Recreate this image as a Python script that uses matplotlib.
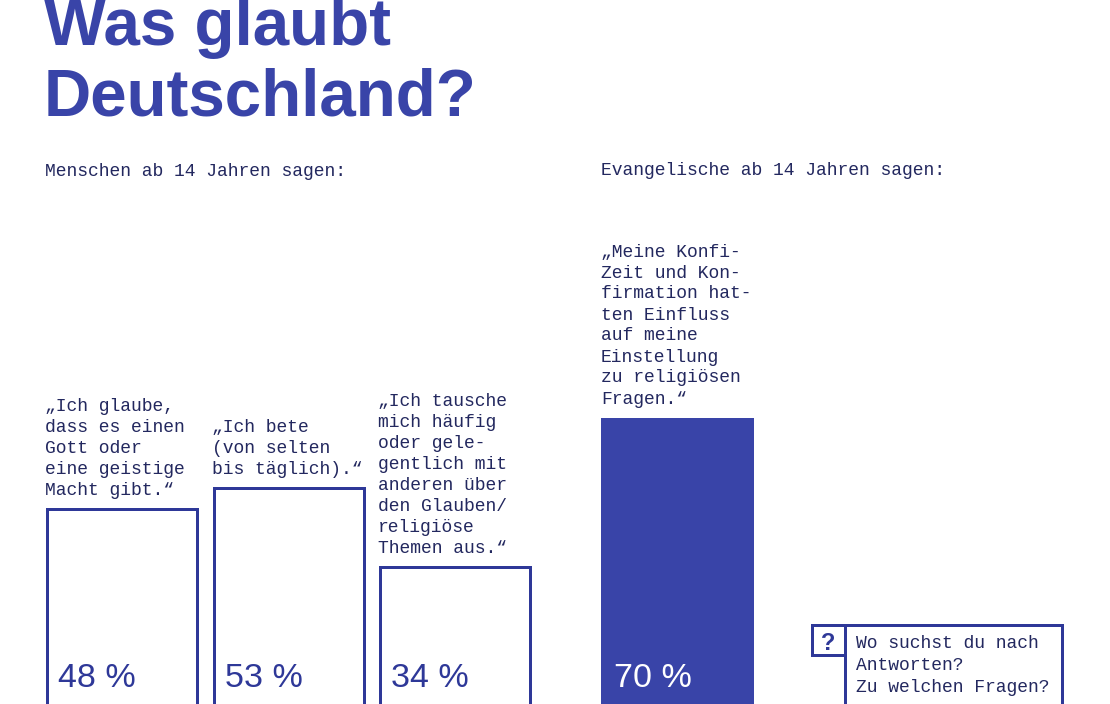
import matplotlib
matplotlib.use('Agg')
import matplotlib.pyplot as plt

# data
left_header = "Menschen ab 14 Jahren sagen:"
right_header = "Evangelische ab 14 Jahren sagen:"
left_labels = [
    ["„Ich glaube,", "dass es einen", "Gott oder", "eine geistige", "Macht gibt.“"],
    ["„Ich bete", "(von selten", "bis täglich).“"],
    ["„Ich tausche", "mich häufig", "oder gele-", "gentlich mit", "anderen über",
     "den Glauben/", "religiöse", "Themen aus.“"],
]
left_values = [48, 53, 34]
right_labels = [
    ["„Meine Konfi-", "Zeit und Kon-", "firmation hat-", "ten Einfluss",
     "auf meine", "Einstellung", "zu religiösen", "Fragen.“"],
]
right_values = [70]
question_lines = ["Wo suchst du nach", "Antworten?", "Zu welchen Fragen?"]

# layout (pixels)
W, H = 1110, 704
PT = 0.72  # points per pixel at dpi 100
left_x = [45, 212, 378]
right_x = [601]
bar_w = 153
zero_px = 708      # pixel row of the 0 % line (just below the picture)
px_per_pct = 4.15

BLUE = '#3944a8'
EDGE = '#2e3898'
TEXT = '#23285f'
MONO = 'Liberation Mono'

fig = plt.figure(figsize=(W / 100, H / 100), dpi=100)

ax = fig.add_axes([0, 0, 1, 1])
ax.set_xlim(0, W)
ax.set_ylim((zero_px - H) / px_per_pct, zero_px / px_per_pct)
ax.axis('off')

lw = 3 * PT
# outlined bars (inset by half the line width so the outer edge sits on x)
ax.bar([x + 1.5 for x in left_x], left_values, width=bar_w - 3, align='edge',
       facecolor='white', edgecolor=EDGE, linewidth=lw)
ax.bar([x for x in right_x], right_values, width=bar_w, align='edge',
       facecolor=BLUE, edgecolor=BLUE, linewidth=0)


def put_labels(xs, vals, labels, pct_color):
    for x, v, lines in zip(xs, vals, labels):
        n = len(lines)
        for k, line in enumerate(lines):
            dy = 14 + 21 * (n - 1 - k)
            ax.annotate(line, xy=(x, v), xytext=(0, dy * PT), textcoords='offset points',
                        ha='left', va='baseline', fontsize=13, family=MONO, color=TEXT,
                        annotation_clip=False)
        ax.annotate('%d %%' % v, xy=(x, 0), xytext=(13 * PT, 21 * PT),
                    textcoords='offset points', ha='left', va='baseline',
                    fontsize=24.5, family='Liberation Sans', color=pct_color,
                    annotation_clip=False)


put_labels(left_x, left_values, left_labels, EDGE)
put_labels(right_x, right_values, right_labels, 'white')

# overlay in pixel coordinates for title, headers and question box
ov = fig.add_axes([0, 0, 1, 1])
ov.set_xlim(0, W)
ov.set_ylim(H, 0)
ov.axis('off')

title_font = dict(family='Liberation Sans', fontweight='bold', fontsize=47.2,
                  color=BLUE, va='baseline', ha='left')
ov.text(44, 45, "Was glaubt", **title_font)
ov.text(44, 115, "Deutschland?", **title_font)

ov.text(45, 176, left_header, fontsize=13, family=MONO, color=TEXT, va='baseline')
ov.text(601, 175, right_header, fontsize=13, family=MONO, color=TEXT, va='baseline')

# question box
box = dict(color=EDGE, linewidth=lw, solid_capstyle='projecting')
ov.plot([812, 1062], [625, 625], **box)
ov.plot([812, 812], [625, 655], **box)
ov.plot([812, 845], [655, 655], **box)
ov.plot([845, 845], [625, 710], **box)
ov.plot([1062, 1062], [625, 710], **box)
ov.text(828.5, 650, "?", fontsize=17, family='Liberation Sans', fontweight='bold',
        color=EDGE, ha='center', va='baseline')
for k, line in enumerate(question_lines):
    ov.text(856, 648 + 22 * k, line, fontsize=13, family=MONO, color=TEXT, va='baseline')

fig.savefig('out.png', dpi=100)
